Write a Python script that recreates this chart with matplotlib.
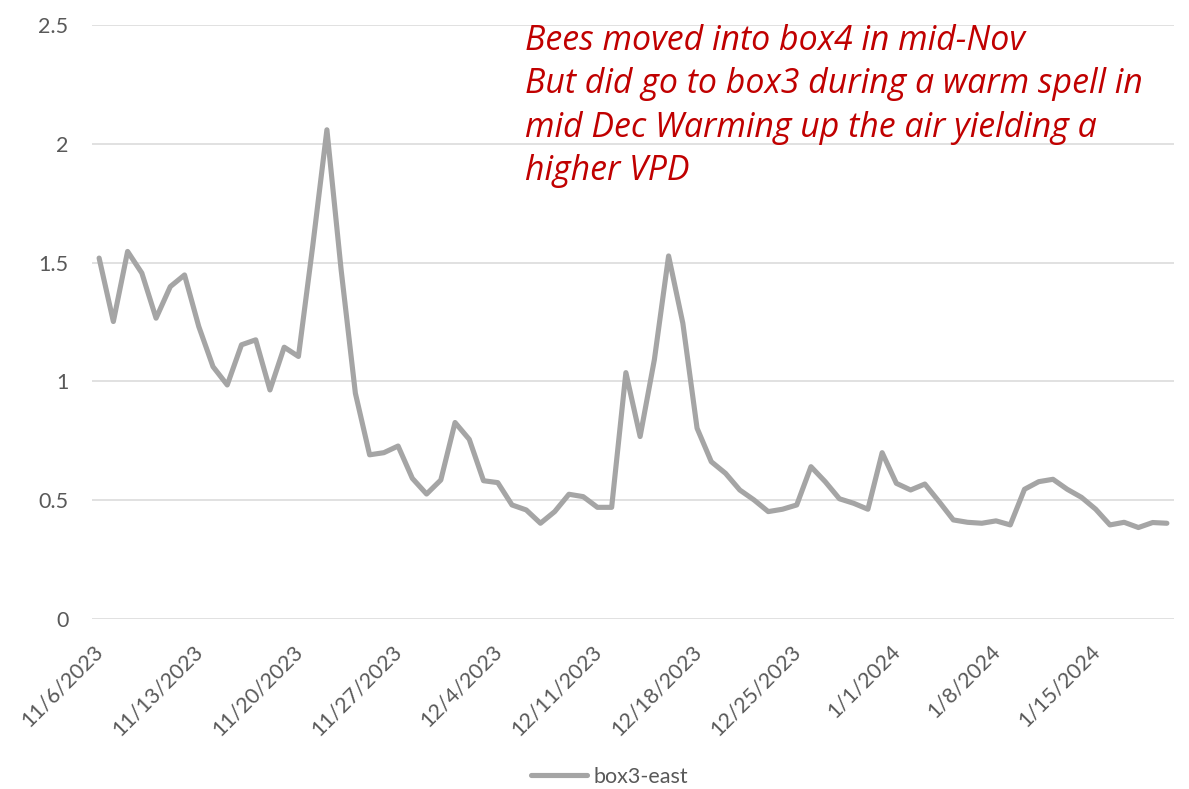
import numpy as np
import pandas as pd
import matplotlib
matplotlib.use("Agg")
import matplotlib.pyplot as plt
import matplotlib.dates as mdates
from matplotlib.transforms import ScaledTranslation

# ---- data ----
START = "2023-11-06"
box3_east = [
    1.519, 1.252, 1.547, 1.456, 1.266, 1.399, 1.448, 1.231, 1.062, 0.985,
    1.154, 1.175, 0.964, 1.144, 1.105, 1.568, 2.059, 1.469, 0.950, 0.691,
    0.700, 0.728, 0.592, 0.526, 0.585, 0.827, 0.756, 0.582, 0.574, 0.480,
    0.459, 0.403, 0.452, 0.525, 0.515, 0.470, 0.470, 1.037, 0.768, 1.091,
    1.528, 1.245, 0.803, 0.662, 0.613, 0.543, 0.501, 0.452, 0.462, 0.480,
    0.641, 0.578, 0.506, 0.487, 0.462, 0.700, 0.571, 0.543, 0.568, 0.494,
    0.417, 0.407, 0.403, 0.413, 0.396, 0.546, 0.578, 0.588, 0.546, 0.512,
    0.462, 0.396, 0.407, 0.385, 0.406, 0.403,
]
dates = pd.date_range(START, periods=len(box3_east), freq="D")
tick_dates = dates[::7]
tick_labels = [f"{d.month}/{d.day}/{d.year}" for d in tick_dates]
y_ticks = [0, 0.5, 1, 1.5, 2, 2.5]
y_labels = ["0", "0.5", "1", "1.5", "2", "2.5"]
note = ("Bees moved into box4 in mid-Nov\n"
        "But did go to box3 during a warm spell in\n"
        "mid Dec Warming up the air yielding a\n"
        "higher VPD")

LINE_C = "#A5A5A5"
GRID_C = "#D9D9D9"
TEXT_C = "#595959"
NOTE_C = "#C00000"
FONT = "Lato"
NOTE_FONT = "Open Sans"

W, H = 1189, 789
fig = plt.figure(figsize=(W / 100, H / 100), dpi=100)
ax = fig.add_axes([92 / W, 1 - 619 / H, (1174 - 92) / W, (619 - 25) / H])

x = mdates.date2num(dates)
ax.plot(x, box3_east, color=LINE_C, lw=3.7, solid_joinstyle="round",
        solid_capstyle="round", label="box3-east", zorder=3)

ax.set_xlim(x[0] - 0.5, x[-1] + 0.5)
ax.set_ylim(0, 2.5)
ax.set_yticks(y_ticks)
ax.set_yticklabels(y_labels)
ax.set_xticks(mdates.date2num(tick_dates))
ax.set_xticklabels(tick_labels, rotation=45, ha="right", va="top",
                   rotation_mode="anchor")

ax.grid(axis="y", color=GRID_C, lw=1.1, zorder=0)
ax.grid(axis="x", visible=False)
for s in ax.spines.values():
    s.set_visible(False)
ax.tick_params(axis="y", length=0, pad=17, labelsize=15.5, labelcolor=TEXT_C)
ax.tick_params(axis="x", length=0, pad=16, labelsize=15.5, labelcolor=TEXT_C)
for lab in ax.get_xticklabels() + ax.get_yticklabels():
    lab.set_fontfamily(FONT)
shift = ScaledTranslation(-6 / 100, 0, fig.dpi_scale_trans)
for lab in ax.get_xticklabels():
    lab.set_transform(lab.get_transform() + shift)

# annotation, first baseline at ~48 px from the top, last at ~180 px
fig.text(525 / W, 1 - 180 / H, note, color=NOTE_C, fontsize=24.4,
         fontstyle="italic", family=NOTE_FONT, va="baseline", ha="left",
         linespacing=1.36)

leg = ax.legend(loc="center", bbox_to_anchor=(610 / W, 1 - 777 / H),
                bbox_transform=fig.transFigure, frameon=False,
                handlelength=2.6, handletextpad=0.3,
                prop={"family": FONT, "size": 15.5})
for t in leg.get_texts():
    t.set_color(TEXT_C)

fig.savefig("out.png", dpi=100, facecolor="white")
